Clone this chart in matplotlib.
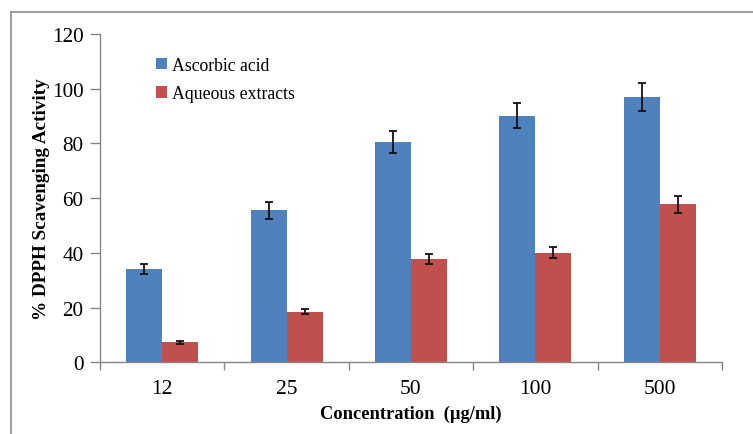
import numpy as np
import matplotlib
matplotlib.use("Agg")
import matplotlib.pyplot as plt
from matplotlib.lines import Line2D

plt.rcParams['font.family'] = ['Liberation Serif', 'DejaVu Serif']

# data
concentrations = ['12', '25', '50', '100', '500']
ascorbic = [34.1, 55.5, 80.5, 90.2, 97.0]
ascorbic_err = [2.0, 3.0, 4.0, 4.5, 5.0]
aqueous = [7.3, 18.5, 37.7, 40.0, 57.7]
aqueous_err = [0.5, 1.0, 1.8, 2.0, 3.0]

blue = '#4F81BD'
red = '#C0504D'
axis_grey = '#868686'

fig = plt.figure(figsize=(7.53, 4.35), dpi=100)
ax = fig.add_axes([0.1328, 0.1648, 0.826, 0.7547])

x = np.arange(len(concentrations))
w = 0.29
err_style = dict(ecolor='#111111', elinewidth=1.3, capsize=3, capthick=1.3)
ax.bar(x - w / 2, ascorbic, w, color=blue, label='Ascorbic acid',
       yerr=ascorbic_err, error_kw=err_style, zorder=2)
ax.bar(x + w / 2, aqueous, w, color=red, label='Aqueous extracts',
       yerr=aqueous_err, error_kw=err_style, zorder=2)

ax.set_xlim(-0.5, len(concentrations) - 0.5)
ax.set_ylim(0, 120)
ax.set_yticks(range(0, 121, 20))
ax.set_xticks(x)
ax.set_xticklabels(concentrations)
ax.set_xticks(np.arange(-0.5, len(concentrations)), minor=True)
ax.tick_params(axis='x', which='major', length=0, labelsize=15.5, pad=12)
ax.tick_params(axis='x', which='minor', length=6, direction='out', color=axis_grey, width=1)
ax.tick_params(axis='y', length=7, direction='out', color=axis_grey, width=1, labelsize=15.3, pad=5)

for side in ['top', 'right']:
    ax.spines[side].set_visible(False)
for side in ['left', 'bottom']:
    ax.spines[side].set_color(axis_grey)
    ax.spines[side].set_linewidth(1)

ax.set_ylabel('% DPPH Scavenging Activity', fontsize=13.8, fontweight='bold', labelpad=1)
ax.set_xlabel('Concentration  (\u00b5g/ml)', fontsize=13.3, fontweight='bold', labelpad=5)

ax.legend(loc='upper left', bbox_to_anchor=(0.065, 0.98), frameon=False, fontsize=12.8,
          handlelength=0.6, handleheight=0.6, handletextpad=0.3, labelspacing=0.65)

# grey frame from the screenshot
fig.add_artist(Line2D([0.0146, 0.0146], [0.0, 0.970], color='#8c8c8c', lw=1.2))
fig.add_artist(Line2D([0.0146, 1.0], [0.970, 0.970], color='#8c8c8c', lw=1.2))

fig.savefig('out.png', dpi=100)
